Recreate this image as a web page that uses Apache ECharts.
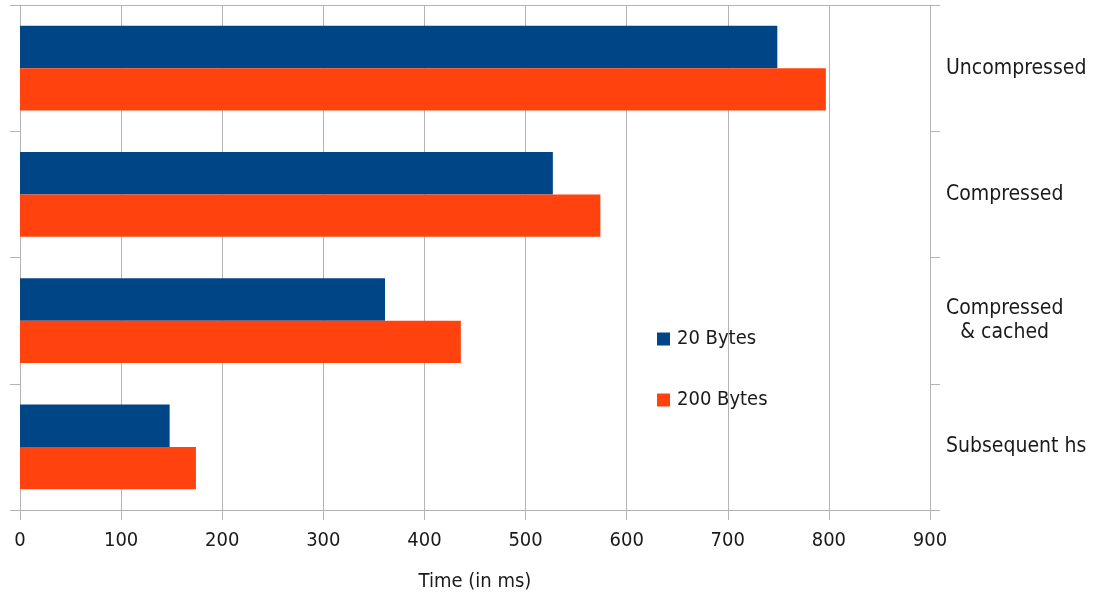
<!DOCTYPE html>
<html>
<head>
<meta charset="utf-8">
<script src="https://cdn.jsdelivr.net/npm/echarts@6/dist/echarts.min.js"></script>
<style>html,body{margin:0;padding:0;background:#fff}#c{width:1094px;height:597px}</style>
</head>
<body>
<div id="c"></div>
<script>
const categories = ['Uncompressed', 'Compressed', 'Compressed\n& cached', 'Subsequent hs'];
const bytes20 = [749, 527, 361, 148];
const bytes200 = [797, 574, 436, 174];
const seriesNames = ['20 Bytes', '200 Bytes'];
const xTicks = { min: 0, max: 900, interval: 100 };
const axisTitle = 'Time (in ms)';

const FONT = 'DejaVu Sans Condensed, DejaVu Sans, sans-serif';
const FS = 20;
const CFS = 21;
const gridColor = '#b3b3b3';
const textColor = '#1a1a1a';

const ctx = document.createElement('canvas').getContext('2d');
ctx.font = CFS + 'px ' + FONT;

const chart = echarts.init(document.getElementById('c'), null, { renderer: 'canvas' });
chart.setOption({
  animation: false,
  textStyle: { fontFamily: FONT },
  grid: { left: 20, right: 164, top: 5, bottom: 84, containLabel: false },
  legend: {
    orient: 'vertical', left: 657, top: 329, padding: 0,
    itemWidth: 13, itemHeight: 13, itemGap: 41,
    icon: 'rect',
    textStyle: { fontSize: FS, color: textColor, fontFamily: FONT, padding: [0, 0, 0, 2] },
    data: seriesNames
  },
  xAxis: [{
    type: 'value', position: 'bottom', min: xTicks.min, max: xTicks.max, interval: xTicks.interval,
    axisLine: { show: true, lineStyle: { color: gridColor, width: 1 } },
    axisTick: { show: true, length: 10, lineStyle: { color: gridColor } },
    splitLine: { show: true, lineStyle: { color: gridColor, width: 1 } },
    axisLabel: { fontSize: FS, color: textColor, margin: 21, fontFamily: FONT },
    name: axisTitle, nameLocation: 'middle', nameGap: 62,
    nameTextStyle: { fontSize: FS, color: textColor, fontFamily: FONT }
  }, {
    type: 'value', position: 'top', min: xTicks.min, max: xTicks.max, interval: xTicks.interval,
    axisLine: { show: true, lineStyle: { color: gridColor, width: 1 } },
    axisTick: { show: false }, axisLabel: { show: false }, splitLine: { show: false }
  }],
  yAxis: [{
    type: 'category', position: 'right', inverse: true, data: categories,
    axisLine: { show: true, onZero: false, lineStyle: { color: gridColor } },
    axisTick: { show: true, length: 10, lineStyle: { color: gridColor } },
    splitLine: { show: false },
    axisLabel: {
      fontSize: CFS, color: textColor, margin: 16, align: 'left', lineHeight: 24, fontFamily: FONT,
      formatter: function (v) {
        if (v.indexOf('\n') < 0) return v;
        return v.split('\n').map(s => '{c|' + s + '}').join('\n');
      },
      rich: { c: { width: ctx.measureText('Compressed').width, align: 'center', fontSize: CFS, lineHeight: 24, color: textColor, fontFamily: FONT } }
    }
  }, {
    type: 'category', position: 'left', inverse: true, data: categories,
    axisLine: { show: true, onZero: false, lineStyle: { color: gridColor } },
    axisTick: { show: true, length: 10, lineStyle: { color: gridColor } },
    axisLabel: { show: false }, splitLine: { show: false }
  }],
  series: [{
    name: seriesNames[0], type: 'bar', data: bytes20, barGap: '0%', barCategoryGap: '33%',
    itemStyle: { color: '#004586' }
  }, {
    name: seriesNames[1], type: 'bar', data: bytes200, barGap: '0%', barCategoryGap: '33%',
    itemStyle: { color: '#ff420e' }
  }]
});
</script>
</body>
</html>
